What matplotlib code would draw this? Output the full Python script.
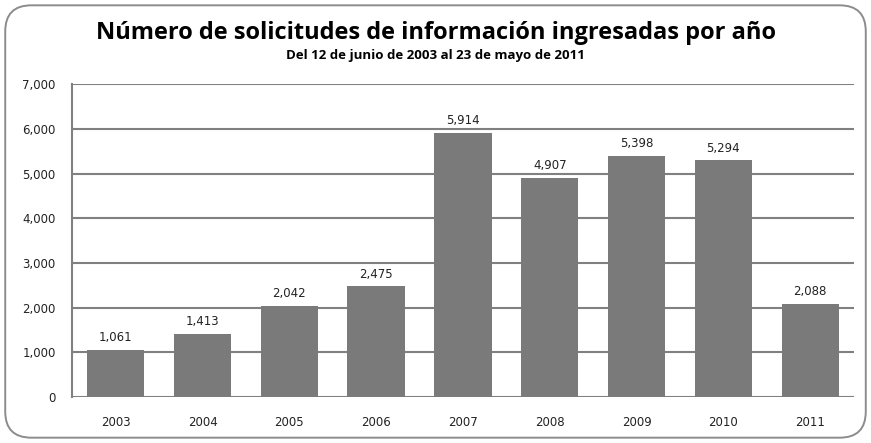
import matplotlib.pyplot as plt
from matplotlib.patches import FancyBboxPatch

plt.rcParams['font.family'] = ['DejaVu Sans']

years = ['2003', '2004', '2005', '2006', '2007', '2008', '2009', '2010', '2011']
solicitudes = [1061, 1413, 2042, 2475, 5914, 4907, 5398, 5294, 2088]
yticks = [0, 1000, 2000, 3000, 4000, 5000, 6000, 7000]

fig = plt.figure(figsize=(8.71, 4.43), dpi=100)
ax = fig.add_axes([0.083, 0.104, 0.897, 0.706])

# rounded frame around the whole chart
frame = FancyBboxPatch((0.006, 0.012), 0.988, 0.976, boxstyle='round,pad=0,rounding_size=0.03',
                       transform=fig.transFigure, fill=False, edgecolor='#8c8c8c', linewidth=1.4,
                       mutation_aspect=871 / 443)
fig.patches.append(frame)

x = range(len(years))
ax.bar(x, solicitudes, width=0.66, color='#7a7a7a', zorder=3)
for i, v in enumerate(solicitudes):
    ax.text(i, v + 130, f'{v:,}', ha='center', va='bottom', fontsize=8.5, color='#222222')

ax.set_xlim(-0.5, len(years) - 0.5)
ax.set_ylim(0, 7000)
ax.set_yticks(yticks)
ax.set_yticklabels([f'{t:,}' for t in yticks])
ax.set_xticks(list(x))
ax.set_xticklabels(years)
ax.yaxis.grid(True, color='#808080', linewidth=1.5, zorder=0)
ax.tick_params(axis='both', length=0, labelsize=8.5, colors='#222222')
ax.tick_params(axis='x', pad=14)
ax.tick_params(axis='y', pad=12)
for s in ['top', 'right', 'bottom']:
    ax.spines[s].set_visible(False)
ax.spines['left'].set_color('#808080')
ax.spines['left'].set_linewidth(1.5)

fig.text(0.5, 0.925, 'Número de solicitudes de información ingresadas por año', ha='center', va='center',
         fontsize=17, fontweight='bold', family='Open Sans')
fig.text(0.5, 0.875, 'Del 12 de junio de 2003 al 23 de mayo de 2011', ha='center', va='center',
         fontsize=9.5, fontweight='bold', family='Open Sans')

fig.savefig('out.png', dpi=100)
